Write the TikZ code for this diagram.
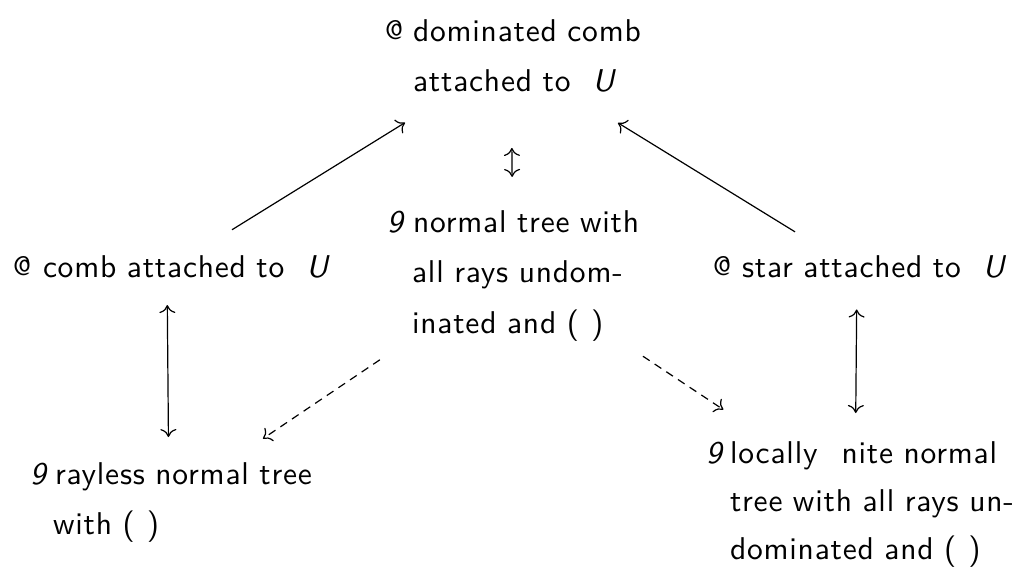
\documentclass[tikz,border=0pt]{standalone}
\usepackage{fontspec}
\setsansfont{lmsans10-regular.otf}[ItalicFont=lmsans10-oblique.otf, LetterSpace=2.5]
\usetikzlibrary{arrows.meta,calc}
\newcommand{\nexsym}[1]{\makebox[#1][l]{\raisebox{2bp}{\fontsize{27bp}{27bp}\selectfont @}}}
\newcommand{\exsym}[1]{\makebox[#1][l]{\itshape 9}}
\tikzset{
  lbl/.style={anchor=base west, inner sep=0pt, outer sep=0pt, align=left,
    font=\sffamily\fontsize{31.5bp}{50bp}\selectfont, text height=22bp},
  arr/.style={line width=1.2bp, -{Computer Modern Rightarrow[length=8bp,width=16bp]}},
  darr/.style={line width=1.2bp, {Computer Modern Rightarrow[length=8bp,width=16bp]}-{Computer Modern Rightarrow[length=8bp,width=16bp]}},
  dsh/.style={arr, dash pattern=on 8bp off 6bp},
}
\begin{document}
\begin{tikzpicture}[x=1bp,y=-1bp]
\useasboundingbox (0,0) rectangle (1018,567);
\node[lbl, text width=252bp, text depth=52bp] (T) at (385,42)
  {\mbox{\nexsym{28bp}dominated comb}\\
   \mbox{\hspace*{28bp}attached to\hspace{22bp}\textit{U}}};
\node[lbl, text width=308bp, text depth=6bp] (L) at (13,278)
  {\mbox{\nexsym{30bp}comb attached to\hspace{22bp}\textit{U}}};
\node[lbl, text width=252bp, text depth=96bp] (C) at (387,233)
  {\mbox{\exsym{26bp}normal tree with}\\
   \mbox{\hspace*{25bp}all rays undom-}\\
   \mbox{\hspace*{25bp}inated and (\hspace{12bp})}};
\node[lbl, text width=288bp, text depth=6bp] (R) at (713,278)
  {\mbox{\nexsym{29bp}star attached to\hspace{22bp}\textit{U}}};
\node[lbl, text width=278bp, text depth=58bp] (BL) at (30,484)
  {\mbox{\exsym{25bp}rayless normal tree}\\
   \mbox{\hspace*{23bp}with (\hspace{12bp})}};
\node[lbl, text width=298bp, text depth=90bp] (BR) at (706,463)
  {\mbox{\exsym{24bp}locally\hspace{24bp}nite normal}\\[-2bp]
   \mbox{\hspace*{24bp}tree with all rays un-}\\[-2bp]
   \mbox{\hspace*{24bp}dominated and (\hspace{12bp})}};
\draw[arr] ($(L)!0.189!(T)$) -- ($(L)!0.692!(T)$);
\draw[arr] ($(R)!0.179!(T)$) -- ($(R)!0.691!(T)$);
\draw[darr] ($(T)!0.427!(C)$) -- ($(T)!0.563!(C)$);
\draw[darr] ($(L)!0.151!(BL)$) -- ($(L)!0.72!(BL)$);
\draw[darr] ($(R)!0.174!(BR)$) -- ($(R)!0.63!(BR)$);
\draw[dsh] ($(C)!0.387!(BL)$) -- ($(C)!0.727!(BL)$);
\draw[dsh] ($(C)!0.38!(BR)$) -- ($(C)!0.615!(BR)$);
\end{tikzpicture}
\end{document}
